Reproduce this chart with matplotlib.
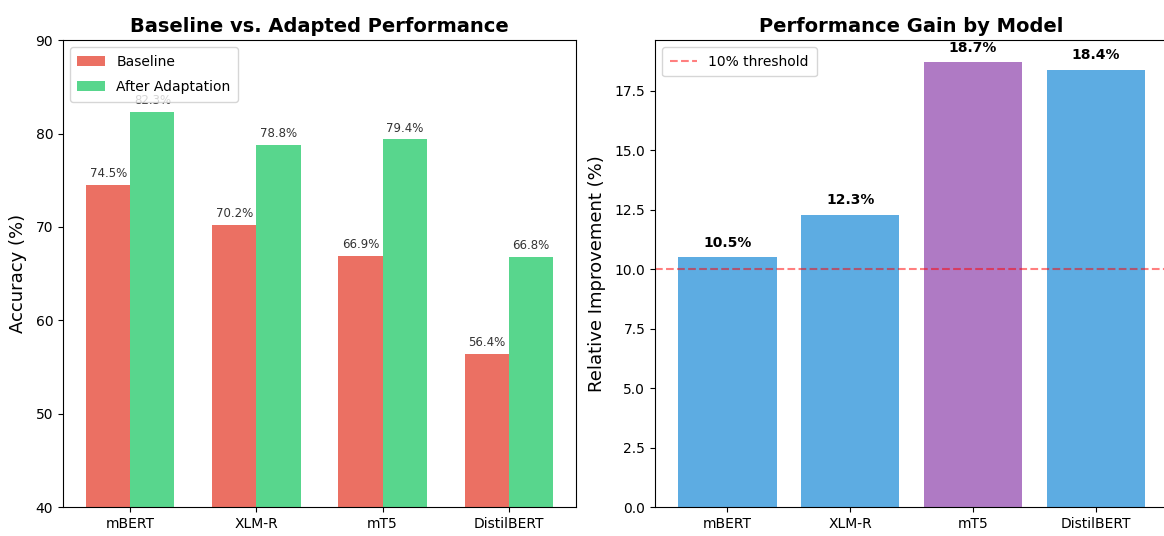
import matplotlib
matplotlib.use("Agg")
import matplotlib.pyplot as plt
import numpy as np

models = ["mBERT", "XLM-R", "mT5", "DistilBERT"]
baseline = [74.5, 70.2, 66.9, 56.4]
adapted = [82.3, 78.8, 79.4, 66.8]
improvement = [10.5, 12.3, 18.7, 18.4]
gain_colors = ["#3498db", "#3498db", "#9b59b6", "#3498db"]

fig = plt.figure(figsize=(11.64, 5.36), dpi=100)
ax1 = fig.add_axes([0.054, 0.054, 0.441, 0.871])
ax2 = fig.add_axes([0.5627, 0.054, 0.441, 0.871])

x = np.arange(len(models))
w = 0.35

# Left: accuracy before and after adaptation
b1 = ax1.bar(x - w / 2, baseline, w, label="Baseline", color="#e74c3c", alpha=0.8)
b2 = ax1.bar(x + w / 2, adapted, w, label="After Adaptation", color="#2ecc71", alpha=0.8)
for bars in (b1, b2):
    for bar in bars:
        h = bar.get_height()
        ax1.text(bar.get_x() + bar.get_width() / 2, h + 0.5, f"{h:.1f}%",
                 ha="center", va="bottom", fontsize=8.5, color="#333333")
ax1.set_ylim(40, 90)
ax1.set_xticks(x)
ax1.set_xticklabels(models)
ax1.set_ylabel("Accuracy (%)", fontsize=13, labelpad=6)
ax1.set_title("Baseline vs. Adapted Performance", fontsize=14, fontweight="bold")
ax1.legend(loc="upper left", fontsize=10, labelspacing=0.8, borderpad=0.55)

# Right: relative gain per model
b3 = ax2.bar(x, improvement, color=gain_colors, alpha=0.8)
for bar in b3:
    h = bar.get_height()
    ax2.text(bar.get_x() + bar.get_width() / 2, h + 0.3, f"{h:.1f}%",
             ha="center", va="bottom", fontsize=10, fontweight="bold")
ax2.axhline(10, color="red", linestyle="--", alpha=0.5, label="10% threshold")
ax2.set_ylim(0, max(improvement) * 1.05)
ax2.set_xticks(x)
ax2.set_xticklabels(models)
ax2.set_ylabel("Relative Improvement (%)", fontsize=13, labelpad=6)
ax2.set_title("Performance Gain by Model", fontsize=14, fontweight="bold")
ax2.legend(loc="upper left", fontsize=10, borderpad=0.55)

fig.savefig("out.png", dpi=100)
